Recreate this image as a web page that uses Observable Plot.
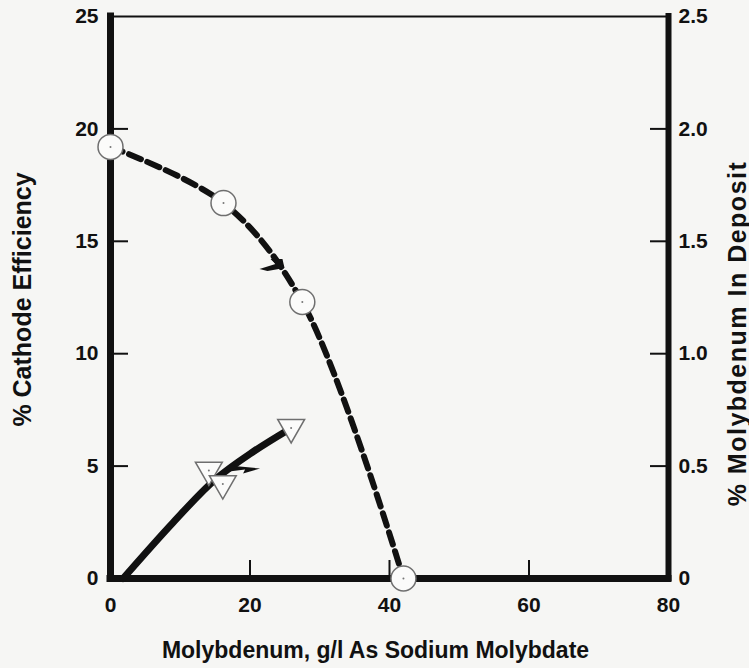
<!DOCTYPE html>
<html>
<head>
<meta charset="utf-8">
<script src="https://cdn.jsdelivr.net/npm/d3@7"></script>
<script src="https://cdn.jsdelivr.net/npm/@observablehq/plot@0.6"></script>
<style>
  html, body { margin: 0; padding: 0; background: #f6f6f4; }
</style>
</head>
<body>
<div id="chart"></div>
<script>
// Cathode efficiency (left axis, %) against molybdenum concentration (g/l)
const effX = [0, 16.2, 27.5, 42.0];
const effY = [19.2, 16.7, 12.3, 0];

// Molybdenum in the deposit (right axis, %)
const moX = [14.1, 16.1, 25.9];
const moY = [0.48, 0.42, 0.67];

// Hand-drawn trend line through the molybdenum points (right axis, %)
const moFitX = [1.8, 9.0, 15.0, 20.5, 25.4];
const moFitY = [0, 0.25, 0.44, 0.565, 0.66];

// Small barbs telling which axis each curve belongs to
const effArrowX = [24.8], effArrowY = [13.9];
const moArrowX = [17.0], moArrowY = [0.485];

// Axis ticks and their labels
const xTicks = [0, 20, 40, 60, 80];
const xTickLabels = ["0", "20", "40", "60", "80"];
const leftTicks = [0, 5, 10, 15, 20, 25];
const leftTickLabels = ["0", "5", "10", "15", "20", "25"];
const rightTicks = [0, 0.5, 1.0, 1.5, 2.0, 2.5];
const rightTickLabels = ["0", "0.5", "1.0", "1.5", "2.0", "2.5"];

const xTitle = "Molybdenum, g/l As Sodium Molybdate";
const leftTitle = "% Cathode Efficiency";
const rightTitle = "% Molybdenum In Deposit";

// The right axis shares the y scale: 2.5 % Mo sits level with 25 % efficiency
const k = leftTicks[leftTicks.length - 1] / rightTicks[rightTicks.length - 1];
const rightTicksScaled = rightTicks.map(v => v * k);

const effData = effX.map((x, i) => ({x, y: effY[i]}));
const moData = moX.map((x, i) => ({x, y: moY[i] * k}));
const moFit = moFitX.map((x, i) => ({x, y: moFitY[i] * k}));
const effArrow = effArrowX.map((x, i) => ({x, y: effArrowY[i]}));
const moArrow = moArrowX.map((x, i) => ({x, y: moArrowY[i] * k}));

// Downward-pointing triangle, centred on its centroid
const downTriangle = {
  draw(ctx, size) {
    const r = Math.sqrt(size / Math.PI);
    ctx.moveTo(-1.12 * r, -0.7 * r);
    ctx.lineTo(1.12 * r, -0.7 * r);
    ctx.lineTo(0, 1.25 * r);
    ctx.closePath();
  }
};
// Barb pointing left (toward the efficiency axis)
const leftBarb = {
  draw(ctx) {
    ctx.moveTo(-24, 3); ctx.lineTo(-8, -2); ctx.lineTo(-13, -7);
    ctx.lineTo(-1, -7); ctx.lineTo(1, 2); ctx.lineTo(-16, 5); ctx.closePath();
  }
};
// Barb pointing right (toward the molybdenum axis)
const rightBarb = {
  draw(ctx) {
    ctx.moveTo(0, -4); ctx.lineTo(31, -1); ctx.lineTo(14, 4);
    ctx.lineTo(16, 0); ctx.lineTo(0, 2); ctx.closePath();
  }
};

const W = 749, H = 668;
const M = {left: 110, right: 81, top: 16, bottom: 90};
const frameW = W - M.left - M.right;
const frameH = H - M.top - M.bottom;
const TICK = 18; // inward tick length
const inner = a => a.slice(1, -1);

const chart = Plot.plot({
  width: W,
  height: H,
  marginLeft: M.left,
  marginRight: M.right,
  marginTop: M.top,
  marginBottom: M.bottom,
  style: {
    background: "#f6f6f4",
    color: "#111",
    fontFamily: "'Liberation Sans', Arial, sans-serif",
    fontWeight: "bold",
    fontSize: "21px"
  },
  x: {domain: [xTicks[0], xTicks[xTicks.length - 1]]},
  y: {domain: [leftTicks[0], leftTicks[leftTicks.length - 1]]},
  marks: [
    // frame: thin top, heavy left/right/bottom
    Plot.ruleY([leftTicks[leftTicks.length - 1]], {stroke: "#111", strokeWidth: 2}),
    Plot.ruleX([xTicks[xTicks.length - 1]], {stroke: "#111", strokeWidth: 6, strokeLinecap: "square"}),
    Plot.ruleX([xTicks[0]], {stroke: "#111", strokeWidth: 7, strokeLinecap: "square"}),
    Plot.ruleY([leftTicks[0]], {stroke: "#111", strokeWidth: 7, strokeLinecap: "square"}),

    // tick marks pointing into the plot
    Plot.tickX(inner(xTicks), {x: d => d, insetTop: frameH - TICK, stroke: "#111", strokeWidth: 2}),
    Plot.tickY(inner(leftTicks), {y: d => d, insetRight: frameW - TICK, stroke: "#111", strokeWidth: 2}),
    Plot.tickY(inner(rightTicksScaled), {y: d => d, insetLeft: frameW - TICK, stroke: "#111", strokeWidth: 2}),

    // tick labels
    Plot.axisX({
      ticks: xTicks, tickSize: 0, tickPadding: 19, label: null,
      tickFormat: d => xTickLabels[xTicks.indexOf(d)]
    }),
    Plot.axisY({
      anchor: "left", ticks: leftTicks, tickSize: 0, tickPadding: 12, label: null,
      tickFormat: d => leftTickLabels[leftTicks.indexOf(d)]
    }),
    Plot.axisY({
      anchor: "right", ticks: rightTicksScaled, tickSize: 0, tickPadding: 10, label: null,
      tickFormat: d => rightTickLabels[rightTicksScaled.indexOf(d)]
    }),

    // curves
    Plot.line(effData, {x: "x", y: "y", curve: "catmull-rom", stroke: "#111", strokeWidth: 6, strokeDasharray: "13,7"}),
    Plot.line(moFit, {x: "x", y: "y", curve: "catmull-rom", stroke: "#111", strokeWidth: 7}),
    Plot.dot(effArrow, {x: "x", y: "y", symbol: leftBarb, fill: "#111", stroke: null}),
    Plot.dot(moArrow, {x: "x", y: "y", symbol: rightBarb, fill: "#111", stroke: null}),

    // measured points
    Plot.dot(effData, {x: "x", y: "y", r: 12.5, fill: "#fbfbfa", stroke: "#6f6f6f", strokeWidth: 1.5}),
    Plot.dot(moData, {x: "x", y: "y", r: 12, symbol: downTriangle, fill: "#fbfbfa", stroke: "#6f6f6f", strokeWidth: 1.5}),
    Plot.dot(effData, {x: "x", y: "y", r: 1, fill: "#777", stroke: null}),
    Plot.dot(moData, {x: "x", y: "y", r: 1, fill: "#777", stroke: null}),

    // axis titles
    Plot.text([leftTitle], {text: d => d, frameAnchor: "left", textAnchor: "middle", rotate: -90, dx: -88, dy: 2, fontSize: 25}),
    Plot.text([rightTitle], {text: d => d, frameAnchor: "right", textAnchor: "middle", rotate: -90, dx: 69, dy: 36, fontSize: 25}),
    Plot.text([xTitle], {text: d => d, frameAnchor: "bottom", textAnchor: "middle", dx: -14, dy: 79, fontSize: 23})
  ]
});

// the right-hand title is set a little more loosely
d3.select(chart).selectAll("text")
  .filter(function() { return this.textContent === rightTitle; })
  .style("letter-spacing", "1.5px");

document.getElementById("chart").appendChild(chart);
</script>
</body>
</html>
